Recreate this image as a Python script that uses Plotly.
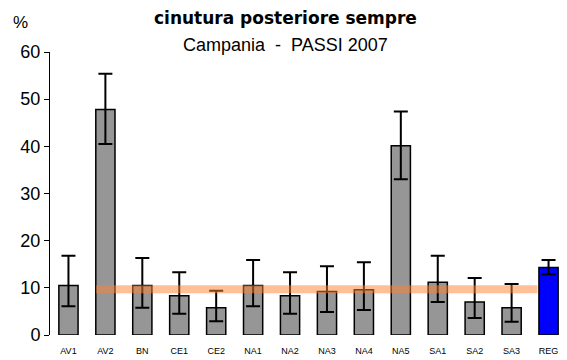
import plotly.graph_objects as go

asl = ["AV1", "AV2", "BN", "CE1", "CE2", "NA1", "NA2", "NA3", "NA4", "NA5", "SA1", "SA2", "SA3", "REG"]
valori = [10.5, 47.8, 10.5, 8.3, 5.8, 10.5, 8.3, 9.2, 9.6, 40.1, 11.2, 7.0, 5.8, 14.3]
ic_sup = [16.8, 55.4, 16.3, 13.3, 9.4, 15.9, 13.3, 14.6, 15.4, 47.4, 16.8, 12.1, 10.8, 15.9]
ic_inf = [6.1, 40.5, 5.8, 4.5, 2.9, 6.1, 4.5, 4.9, 5.3, 33.0, 7.0, 3.6, 2.8, 12.9]
media_reg = 9.7

colori = ["#969696"] * (len(asl) - 1) + ["#0000FF"]
err_plus = [s - v for s, v in zip(ic_sup, valori)]
err_minus = [v - i for v, i in zip(valori, ic_inf)]

fig = go.Figure()
fig.add_trace(go.Bar(
    x=asl, y=valori,
    marker=dict(color=colori, line=dict(color="black", width=1.5)),
    width=0.52,
    error_y=dict(type="data", symmetric=False, array=err_plus, arrayminus=err_minus,
                 color="black", thickness=2, width=7),
))

# linea del valore regionale
fig.add_shape(type="line", xref="x", yref="y", x0=0.75, x1=12.7, y0=media_reg, y1=media_reg,
              line=dict(color="rgba(255,130,50,0.5)", width=8), layer="above")

fig.add_annotation(text="<b>cinutura posteriore sempre</b>", xref="paper", yref="paper",
                   x=0.455, y=1.12, xanchor="center", yanchor="middle", showarrow=False,
                   font=dict(family="DejaVu Sans", size=17, color="black"))
fig.add_annotation(text="Campania  -  PASSI 2007", xref="paper", yref="paper",
                   x=0.455, y=1.025, xanchor="center", yanchor="middle", showarrow=False,
                   font=dict(size=18, color="black"))
fig.add_annotation(text="%", xref="paper", yref="paper", x=-0.058, y=1.106,
                   xanchor="center", yanchor="middle",
                   showarrow=False, font=dict(size=17, color="black"))

# la pagina ha un margine di 8 px: dimensioni ridotte per compensare
fig.update_layout(
    width=559, height=352,
    margin=dict(l=42, r=0, t=44, b=25),
    paper_bgcolor="white", plot_bgcolor="white",
    font=dict(family="Liberation Sans, Arial", color="black"),
    showlegend=False, bargap=0.48,
)
fig.update_xaxes(showline=False, ticks="", tickfont=dict(size=9), range=[-0.5, 13.5],
                 ticklabelstandoff=9)
fig.update_yaxes(range=[0, 60], dtick=10, showline=True, linecolor="black", linewidth=1,
                 ticks="outside", ticklen=5, tickcolor="black", showgrid=False,
                 zeroline=False, tickfont=dict(size=18))

fig.write_html("out.html")
